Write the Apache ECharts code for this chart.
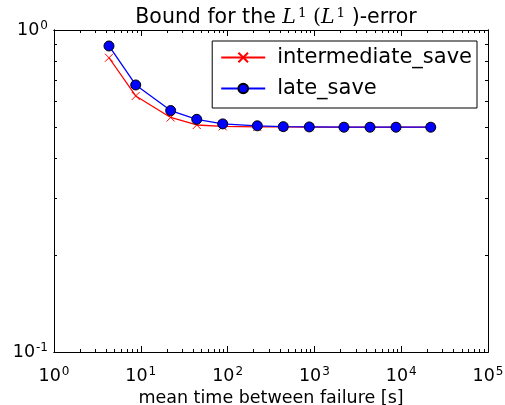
<!DOCTYPE html>
<html>
<head>
<meta charset="utf-8">
<script src="https://cdn.jsdelivr.net/npm/echarts@6/dist/echarts.min.js"></script>
<style>
  html, body { margin: 0; padding: 0; background: #fff; }
  #chart { width: 505px; height: 405px; }
</style>
</head>
<body>
<div id="chart"></div>
<script>
// mean time between failure [s]
const mtbf = [4.3, 8.74, 22.1, 44.1, 87.8, 220, 438, 874, 2190, 4370, 8710, 21900];
// error bounds
const intermediateSave = [0.82, 0.624, 0.535, 0.507, 0.502, 0.5, 0.5, 0.499, 0.499, 0.499, 0.499, 0.499];
const lateSave = [0.892, 0.675, 0.562, 0.528, 0.511, 0.504, 0.501, 0.5, 0.499, 0.499, 0.499, 0.499];

const xMajor = [1, 10, 100, 1000, 10000, 100000];
const yMajor = [0.1, 1];

// minor tick positions (2..9 of every decade)
const xMinor = [];
[1, 10, 100, 1000, 10000].forEach(d => { for (let k = 2; k < 10; k++) xMinor.push(d * k); });
const yMinor = [];
for (let k = 2; k < 10; k++) yMinor.push(k / 10);

const chart = echarts.init(document.getElementById('chart'));

const grid = { left: 54, right: 17, top: 30, bottom: 53, containLabel: false, outerBoundsMode: 'none' };

function sup(v) {
  const e = Math.round(Math.log10(v));
  return '{b|10}{s|' + e + '}';
}
const labelRich = {
  b: { fontFamily: 'DejaVu Sans', fontSize: 17.5, color: '#000' },
  s: { fontFamily: 'DejaVu Sans', fontSize: 12, color: '#000', verticalAlign: 'top', padding: [0, 0, 8, 1] }
};

const lineStyle = { color: '#000', width: 1 };

function xAxis(pos, ticks, len, showLabel) {
  return {
    type: 'log', logBase: 10, min: 1, max: 100000, position: pos,
    axisLine: { show: true, onZero: false, lineStyle },
    splitLine: { show: false },
    axisTick: { show: true, inside: true, length: len, customValues: ticks, lineStyle },
    axisLabel: { show: showLabel, customValues: xMajor, formatter: sup, rich: labelRich, margin: 14 }
  };
}
function yAxis(pos, ticks, len, showLabel) {
  return {
    type: 'log', logBase: 10, min: 0.1, max: 1, position: pos,
    axisLine: { show: true, onZero: false, lineStyle },
    splitLine: { show: false },
    axisTick: { show: true, inside: true, length: len, customValues: ticks, lineStyle },
    axisLabel: { show: showLabel, customValues: yMajor, formatter: sup, rich: labelRich, margin: 6 }
  };
}

const xAxes = [
  xAxis('bottom', xMajor, 6, true),
  xAxis('bottom', xMinor, 3, false),
  xAxis('top', xMajor, 6, false),
  xAxis('top', xMinor, 3, false)
];
xAxes[0].name = 'mean time between failure [s]';
xAxes[0].nameLocation = 'middle';
xAxes[0].nameGap = 31;
xAxes[0].nameTextStyle = { fontFamily: 'DejaVu Sans', fontSize: 17.5, color: '#000' };

const yAxes = [
  yAxis('left', yMajor, 6, true),
  yAxis('left', yMinor, 3, false),
  yAxis('right', yMajor, 6, false),
  yAxis('right', yMinor, 3, false)
];

const xMark = 'path://M0,0L10,10M10,0L0,10';

chart.setOption({
  animation: false,
  backgroundColor: '#fff',
  title: {
    text: 'Bound for the {i|L}{s|1} {p|(}{i|L}{s|1} )-error',
    left: 271, textAlign: 'center', top: 1,
    textStyle: {
      fontFamily: 'DejaVu Sans', fontSize: 20.5, fontWeight: 'normal', color: '#000',
      rich: {
        i: { fontFamily: 'DejaVu Serif', fontStyle: 'italic', fontSize: 20.5, color: '#000' },
        p: { fontFamily: 'DejaVu Serif', fontSize: 20.5, color: '#000' },
        s: { fontFamily: 'DejaVu Serif', fontSize: 13.5, color: '#000', verticalAlign: 'top', padding: [0, 0, 9, 2] }
      }
    }
  },
  legend: {
    right: 28, top: 41, orient: 'vertical',
    data: ['intermediate_save', 'late_save'],
    backgroundColor: '#fff', borderColor: '#000', borderWidth: 1, borderRadius: 0,
    padding: [6, 5, 9, 8],
    itemWidth: 44, itemHeight: 12, itemGap: 10,
    textStyle: { fontFamily: 'DejaVu Sans', fontSize: 21, color: '#000', padding: [0, 0, 0, 7] }
  },
  grid: grid,
  xAxis: xAxes,
  yAxis: yAxes,
  series: [
    {
      name: 'intermediate_save', type: 'line', xAxisIndex: 0, yAxisIndex: 0,
      data: mtbf.map((x, i) => [x, intermediateSave[i]]),
      symbol: xMark, symbolSize: 8,
      lineStyle: { color: '#ff0000', width: 1.3 },
      itemStyle: { color: 'rgba(0,0,0,0)', borderColor: '#ff0000', borderWidth: 1 },
      z: 2
    },
    {
      name: 'late_save', type: 'line', xAxisIndex: 0, yAxisIndex: 0,
      data: mtbf.map((x, i) => [x, lateSave[i]]),
      symbol: 'circle', symbolSize: 10,
      lineStyle: { color: '#0000ff', width: 1.3 },
      itemStyle: { color: '#0000ff', borderColor: '#000', borderWidth: 1 },
      z: 3
    }
  ]
});
</script>
</body>
</html>
